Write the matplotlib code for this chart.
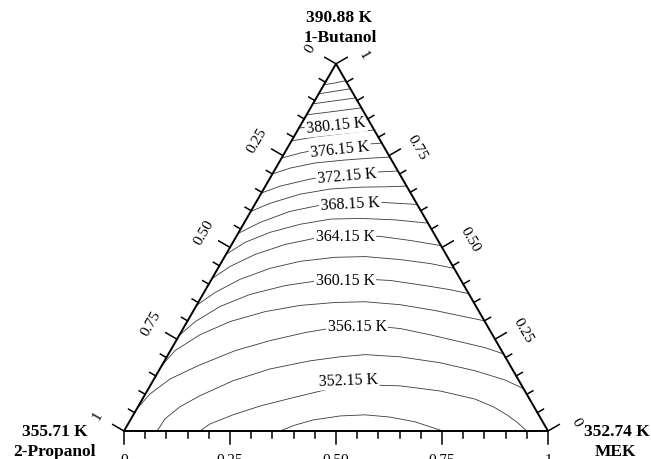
import numpy as np
import matplotlib
matplotlib.use('Agg')
import matplotlib.pyplot as plt

SQ = np.sqrt(3) / 2

# ---------------- data ----------------
vertex_names = ['2-Propanol', 'MEK', '1-Butanol']
vertex_temps = ['355.71 K', '352.74 K', '390.88 K']

axis_major = [0, 0.25, 0.5, 0.75, 1]
axis_major_labels = ['0', '0.25', '0.50', '0.75', '1']
axis_minor_step = 0.05

# isotherms: (MEK mole fraction, 1-Butanol mole fraction) along each line
mek_388 = [0, 0.024, 0.046]
but_388 = [0.943, 0.948, 0.954]
mek_386 = [0, 0.033, 0.068]
but_386 = [0.918, 0.925, 0.932]
mek_384 = [0, 0.046, 0.093]
but_384 = [0.891, 0.899, 0.907]
mek_382 = [0, 0.058, 0.120]
but_382 = [0.861, 0.870, 0.880]
mek_380 = [0, 0.046, 0.101, 0.150]
but_380 = [0.825, 0.833, 0.840, 0.850]
mek_378 = [0, 0.050, 0.105, 0.180]
but_378 = [0.790, 0.801, 0.809, 0.820]
mek_376 = [0, 0.037, 0.078, 0.121, 0.167, 0.216]
but_376 = [0.743, 0.757, 0.768, 0.776, 0.780, 0.784]
mek_374 = [0, 0.034, 0.086, 0.152, 0.209, 0.254]
but_374 = [0.700, 0.716, 0.730, 0.738, 0.743, 0.746]
mek_372 = [0, 0.035, 0.096, 0.176, 0.240, 0.292]
but_372 = [0.648, 0.667, 0.686, 0.700, 0.705, 0.708]
mek_370 = [0, 0.034, 0.093, 0.157, 0.225, 0.283, 0.333]
but_370 = [0.598, 0.620, 0.645, 0.659, 0.664, 0.665, 0.667]
mek_368 = [0, 0.037, 0.092, 0.155, 0.222, 0.305, 0.383]
but_368 = [0.538, 0.568, 0.598, 0.615, 0.623, 0.622, 0.617]
mek_366 = [0, 0.029, 0.074, 0.134, 0.198, 0.267, 0.352, 0.434]
but_366 = [0.481, 0.514, 0.541, 0.563, 0.577, 0.579, 0.575, 0.566]
mek_364 = [0, 0.026, 0.069, 0.126, 0.188, 0.255, 0.339, 0.415, 0.495]
but_364 = [0.415, 0.448, 0.481, 0.508, 0.525, 0.533, 0.530, 0.519, 0.505]
mek_362 = [0, 0.026, 0.067, 0.123, 0.184, 0.261, 0.331, 0.417, 0.494, 0.557]
but_362 = [0.342, 0.377, 0.413, 0.443, 0.462, 0.473, 0.475, 0.467, 0.456, 0.443]
mek_360 = [0, 0.019, 0.057, 0.111, 0.182, 0.257, 0.337, 0.423, 0.512, 0.576, 0.626]
but_360 = [0.260, 0.298, 0.339, 0.372, 0.396, 0.410, 0.415, 0.410, 0.396, 0.385, 0.374]
mek_358 = [0, 0.011, 0.048, 0.101, 0.170, 0.244, 0.323, 0.392, 0.479, 0.570, 0.649, 0.700]
but_358 = [0.178, 0.219, 0.262, 0.298, 0.325, 0.342, 0.350, 0.352, 0.344, 0.328, 0.311, 0.300]
mek_356 = [0, 0.011, 0.038, 0.089, 0.153, 0.221, 0.293, 0.367, 0.437, 0.512, 0.591, 0.671, 0.738, 0.790]
but_356 = [0.060, 0.101, 0.142, 0.180, 0.219, 0.246, 0.268, 0.284, 0.287, 0.279, 0.262, 0.243, 0.227, 0.210]
mek_354 = [0.078, 0.080, 0.099, 0.131, 0.189, 0.260, 0.343, 0.408, 0.465, 0.550, 0.652, 0.746, 0.829, 0.885]
but_354 = [0, 0.033, 0.066, 0.096, 0.137, 0.169, 0.191, 0.202, 0.208, 0.202, 0.186, 0.164, 0.139, 0.115]
mek_352 = [0.179, 0.193, 0.235, 0.287, 0.351, 0.428, 0.494, 0.589, 0.691, 0.784, 0.838, 0.881, 0.918, 0.950]
but_352 = [0, 0.019, 0.044, 0.068, 0.090, 0.115, 0.126, 0.123, 0.109, 0.087, 0.066, 0.044, 0.022, 0]
mek_350 = [0.368, 0.395, 0.431, 0.489, 0.547, 0.608, 0.674, 0.752]
but_350 = [0, 0.016, 0.030, 0.041, 0.044, 0.038, 0.025, 0]

isotherms = [
    (mek_388, but_388), (mek_386, but_386), (mek_384, but_384), (mek_382, but_382),
    (mek_380, but_380), (mek_378, but_378), (mek_376, but_376), (mek_374, but_374),
    (mek_372, but_372), (mek_370, but_370), (mek_368, but_368), (mek_366, but_366),
    (mek_364, but_364), (mek_362, but_362), (mek_360, but_360), (mek_358, but_358),
    (mek_356, but_356), (mek_354, but_354), (mek_352, but_352), (mek_350, but_350),
]

# labelled isotherms
label_texts = ['380.15 K', '376.15 K', '372.15 K', '368.15 K',
               '364.15 K', '360.15 K', '356.15 K', '352.15 K']
label_mek = [0.083, 0.125, 0.177, 0.223, 0.256, 0.316, 0.407, 0.459]
label_but = [0.833, 0.768, 0.697, 0.621, 0.531, 0.411, 0.286, 0.139]
label_rot = [6, 6, 5, 3, 0, 0, 0, 2]

# ---------------- drawing ----------------
def cart(m, b):
    m = np.asarray(m, float)
    b = np.asarray(b, float)
    return m + b / 2.0, b * SQ

fig = plt.figure(figsize=(6.51, 4.60), dpi=100)
ax = fig.add_axes([0, 0, 1, 1])
ax.set_xlim(-124 / 424, 527 / 424)
ax.set_ylim(-28 / 424, 432 / 424)
ax.axis('off')

serif = ['Liberation Serif', 'DejaVu Serif']

# triangle
tx, ty = cart([0, 1, 0, 0], [0, 0, 1, 0])
ax.plot(tx, ty, color='black', lw=1.4, solid_joinstyle='miter', zorder=3)

# isotherms
for m, b in isotherms:
    x, y = cart(m, b)
    ax.plot(x, y, color='#3a3a3a', lw=0.6, zorder=1)

# isotherm labels
for t, m, b, r in zip(label_texts, label_mek, label_but, label_rot):
    x, y = cart(m, b)
    ax.text(x, y, t, ha='center', va='center', rotation=r, rotation_mode='anchor',
            fontsize=11.5, family=serif, zorder=2,
            bbox=dict(boxstyle='square,pad=0.1', fc='white', ec='none'))

# ticks
n_ticks = int(round(1 / axis_minor_step))
for i in range(n_ticks + 1):
    f = i * axis_minor_step
    major = any(abs(f - v) < 1e-9 for v in axis_major)
    L = 13 / 424 if major else 7 / 424
    # bottom axis: MEK fraction
    x, y = cart(f, 0)
    ax.plot([x, x], [y, y - L], color='black', lw=1.1, zorder=3)
    # left axis: 2-Propanol fraction (1 at bottom-left vertex)
    x, y = cart(0, 1 - f)
    ax.plot([x, x - L * SQ], [y, y + L * 0.5], color='black', lw=1.1, zorder=3)
    # right axis: 1-Butanol fraction (1 at top vertex)
    x, y = cart(1 - f, f)
    ax.plot([x, x + L * SQ], [y, y + L * 0.5], color='black', lw=1.1, zorder=3)

# tick labels
for v, lab in zip(axis_major, axis_major_labels):
    x, y = cart(v, 0)
    ax.text(x, y - 22 / 424, lab, ha='center', va='top', fontsize=11, family=serif)
    x, y = cart(0, 1 - v)
    ax.text(x - 26 / 424, y + 16 / 424, lab, ha='center', va='center', rotation=60,
            rotation_mode='anchor', fontsize=11, family=serif)
    x, y = cart(1 - v, v)
    ax.text(x + 28 / 424, y + 9 / 424, lab, ha='center', va='center', rotation=-60,
            rotation_mode='anchor', fontsize=11, family=serif)

# vertex labels
bold = dict(fontsize=12.5, fontweight='bold', family=serif, ha='center', va='center')
ax.text(215 / 424, 414 / 424, vertex_temps[2], **bold)
ax.text(216 / 424, 394 / 424, vertex_names[2], **bold)
ax.text(-69 / 424, 0, vertex_temps[0], **bold)
ax.text(-69 / 424, -20 / 424, vertex_names[0], **bold)
ax.text(493 / 424, 0, vertex_temps[1], **bold)
ax.text(491 / 424, -20 / 424, vertex_names[1], **bold)

fig.savefig('out.png', dpi=100)
